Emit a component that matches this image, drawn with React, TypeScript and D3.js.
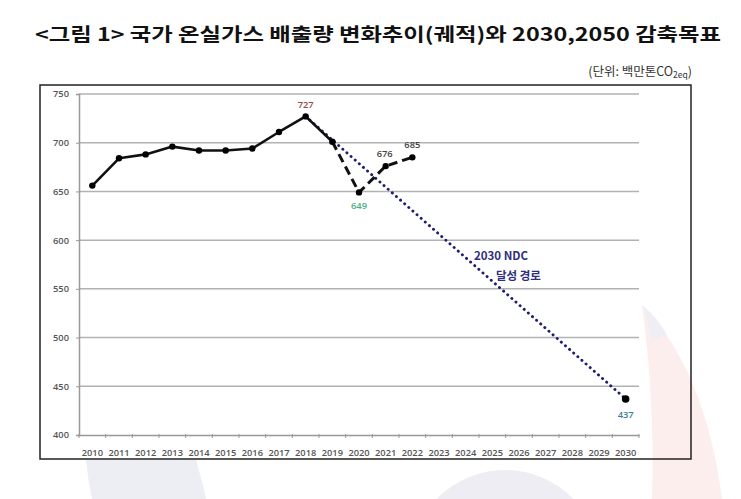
import React, { useRef, useEffect } from 'react';
import * as d3 from 'd3';

// 연도 (category axis)
const years = d3.range(2010, 2031).map(String);
// 실적 배출량 (solid)
const actualYears = ['2010', '2011', '2012', '2013', '2014', '2015', '2016', '2017', '2018', '2019'];
const actualValues = [656, 684, 688, 696, 692, 692, 694, 711, 727, 701];
// 잠정치 (dashed)
const provisionalYears = ['2019', '2020', '2021', '2022'];
const provisionalValues = [701, 649, 676, 685];
// NDC 경로 (dotted)
const ndcYears = ['2018', '2030'];
const ndcValues = [727, 437];
const yTicks = [400, 450, 500, 550, 600, 650, 700, 750];

const FONT = "'Open Sans', 'DejaVu Sans', sans-serif";
const KFONT = "'Noto Sans CJK KR', sans-serif";

const App = () => {
  const svgRef = useRef<SVGSVGElement>(null);

  useEffect(() => {
    const svg = d3.select(svgRef.current);
    svg.selectAll('*').remove();

    // faint watermark shapes behind the chart
    const wm = svg.append('g').attr('class', 'watermark');
    wm.append('path')
      .attr('d', 'M642,305 Q705,370 722,499 L652,499 Q655,400 642,305 Z')
      .attr('fill', '#fdeeee');
    wm.append('path')
      .attr('d', 'M642,305 Q658,318 667,335 L651,340 Q649,320 642,305 Z')
      .attr('fill', '#eeeef4');
    wm.append('circle').attr('cx', 505).attr('cy', 565).attr('r', 95).attr('fill', '#ededf3');
    wm.append('path')
      .attr('d', 'M86,460 L196,460 Q202,480 206,499 L92,499 Q88,480 86,460 Z')
      .attr('fill', '#ededf4');

    // title
    svg.append('text')
      .attr('x', 35).attr('y', 41)
      .attr('textLength', 686).attr('lengthAdjust', 'spacingAndGlyphs')
      .style('font-family', KFONT).style('font-size', 18.5).style('font-weight', 700)
      .style('fill', '#111')
      .text('<그림 1> 국가 온실가스 배출량 변화추이(궤적)와 2030,2050 감축목표');

    // unit
    const unit = svg.append('text')
      .attr('x', 692).attr('y', 76).attr('text-anchor', 'end')
      .style('font-family', KFONT).style('font-size', 12.5).style('fill', '#333');
    unit.append('tspan').text('(단위: 백만톤CO');
    unit.append('tspan').style('font-size', 8.5).attr('dy', 2).text('2eq');
    unit.append('tspan').attr('dy', -2).text(')');

    // frame
    svg.append('rect')
      .attr('x', 40).attr('y', 85).attr('width', 651).attr('height', 374)
      .attr('fill', 'none').attr('stroke', '#222').attr('stroke-width', 1.5);

    const xScale = d3.scaleBand().domain(years).range([79, 639]);
    const yScale = d3.scaleLinear().domain([400, 750]).range([435, 94]);
    const cx = (y: string) => (xScale(y) as number) + xScale.bandwidth() / 2;

    const chart = svg.append('g').attr('class', 'chart');

    // gridlines
    chart.append('g').selectAll('line')
      .data(yTicks.filter(t => t > 400))
      .enter().append('line')
      .attr('x1', 79).attr('x2', 639)
      .attr('y1', d => yScale(d)).attr('y2', d => yScale(d))
      .attr('stroke', '#b2b2b2').attr('stroke-width', 1.5);

    // y axis
    const yAxis = d3.axisLeft(yScale).tickValues(yTicks).tickSize(3).tickPadding(7);
    chart.append('g').attr('class', 'y axis').attr('transform', 'translate(79,0)').call(yAxis);

    // x axis: ticks at category boundaries
    const xAxis = d3.axisBottom(xScale).tickSize(0).tickPadding(14);
    const xg = chart.append('g').attr('class', 'x axis').attr('transform', 'translate(0,435)').call(xAxis);
    xg.selectAll('.bound')
      .data(years.concat(['end']))
      .enter().append('line')
      .attr('x1', (d, i) => 79 + i * xScale.step())
      .attr('x2', (d, i) => 79 + i * xScale.step())
      .attr('y1', -1).attr('y2', 3)
      .attr('stroke', '#999').attr('stroke-width', 1);

    chart.selectAll('.axis path.domain').attr('stroke', '#999').attr('stroke-width', 1.5);
    chart.selectAll('.y.axis .tick line').attr('stroke', '#999');
    chart.selectAll('.axis .tick text')
      .style('fill', '#555').style('font-size', 9.3).style('font-weight', 600).style('font-family', FONT);

    const line = d3.line<[string, number]>().x(d => cx(d[0])).y(d => yScale(d[1]));

    // NDC dotted path
    chart.append('path')
      .datum(ndcYears.map((y, i) => [y, ndcValues[i]] as [string, number]))
      .attr('d', line).attr('fill', 'none')
      .attr('stroke', '#1e1e6e').attr('stroke-width', 2.9)
      .attr('stroke-linecap', 'round').attr('stroke-dasharray', '0.1 5.4');

    // provisional dashed
    chart.append('path')
      .datum(provisionalYears.map((y, i) => [y, provisionalValues[i]] as [string, number]))
      .attr('d', line).attr('fill', 'none')
      .attr('stroke', '#111').attr('stroke-width', 3)
      .attr('stroke-dasharray', '9 5');

    // actual solid
    chart.append('path')
      .datum(actualYears.map((y, i) => [y, actualValues[i]] as [string, number]))
      .attr('d', line).attr('fill', 'none')
      .attr('stroke', '#111').attr('stroke-width', 2.6).attr('stroke-linejoin', 'round');

    const pts = actualYears.map((y, i) => [y, actualValues[i]])
      .concat(provisionalYears.slice(1).map((y, i) => [y, provisionalValues[i + 1]]))
      .concat([[ndcYears[1], ndcValues[1]]]) as [string, number][];
    chart.selectAll('.dot')
      .data(pts).enter().append('circle')
      .attr('cx', d => cx(d[0])).attr('cy', d => yScale(d[1]))
      .attr('r', d => (d[0] === '2030' ? 3.8 : 3.2))
      .attr('fill', '#000');

    // value labels
    const labels: { year: string; value: number; dy: number; color: string }[] = [
      { year: '2018', value: 727, dy: -8, color: '#9a4848' },
      { year: '2020', value: 649, dy: 17, color: '#4aae80' },
      { year: '2021', value: 676, dy: -9, color: '#444' },
      { year: '2022', value: 685, dy: -9, color: '#444' },
      { year: '2030', value: 437, dy: 19, color: '#3b7f8c' },
    ];
    chart.selectAll('.vlabel')
      .data(labels).enter().append('text')
      .attr('x', d => cx(d.year) + (d.year === '2021' ? -1 : 0))
      .attr('y', d => yScale(d.value) + d.dy)
      .attr('text-anchor', 'middle')
      .style('font-family', FONT).style('font-size', 9.3).style('font-weight', 600)
      .style('fill', d => d.color)
      .text(d => String(d.value));

    // NDC annotation
    chart.append('text')
      .attr('x', 474).attr('y', 260)
      .style('font-family', KFONT).style('font-size', 11.5).style('font-weight', 700)
      .style('fill', '#2e2e7e').text('2030 NDC');
    chart.append('text')
      .attr('x', 496).attr('y', 280)
      .style('font-family', KFONT).style('font-size', 11.5).style('font-weight', 700)
      .style('fill', '#2e2e7e').text('달성 경로');
  }, []);

  return (
    <svg
      ref={svgRef}
      width={741}
      height={499}
      style={{ position: 'absolute', left: 0, top: 0, background: '#fff' }}
    />
  );
};

export default App;
